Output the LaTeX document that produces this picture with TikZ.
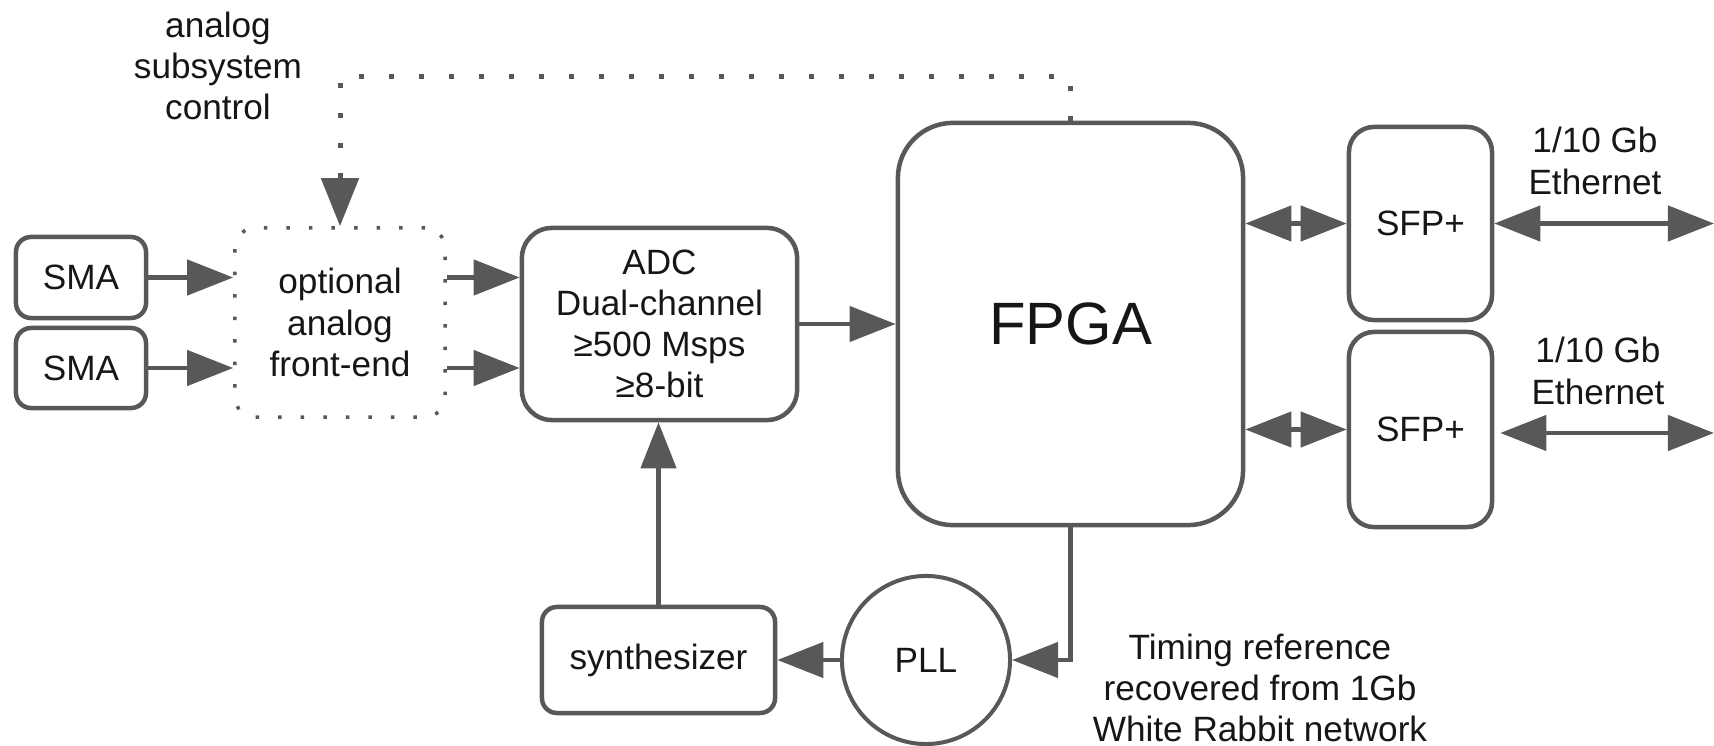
\documentclass[tikz,border=0pt]{standalone}
\usepackage{fontspec}
\setmainfont{Liberation Sans}
\usetikzlibrary{arrows.meta}
\definecolor{lc}{RGB}{88,88,88}
\definecolor{tc}{RGB}{22,22,22}
\begin{document}
\begin{tikzpicture}[x=0.01cm,y=-0.01cm,
  txt/.style={align=center, inner sep=0pt, text=tc, font=\fontsize{10}{11.7}\selectfont},
  blk/.style={txt, draw=lc, line width=0.045cm, rounded corners=#1},
  blk/.default=0.15cm,
  afebox/.style={txt, draw=lc, line width=0.035cm, dash pattern=on 0.035cm off 0.19cm, rounded corners=0.2cm},
  conn/.style={draw=lc, line width=0.045cm, -{Triangle[length=0.46cm,width=0.35cm]}},
  biconn/.style={draw=lc, line width=0.045cm, {Triangle[length=0.46cm,width=0.35cm]}-{Triangle[length=0.46cm,width=0.35cm]}},
  ctlconn/.style={draw=lc, line width=0.05cm, dash pattern=on 0.05cm off 0.25cm, -{Triangle[length=0.48cm,width=0.37cm]}}
]
\useasboundingbox (0,0) rectangle (1714,746);

% blocks
\node[blk] (sma1) at (81,277.5) [minimum width=1.30cm, minimum height=0.81cm] {SMA};
\node[blk] (sma2) at (81,368) [minimum width=1.30cm, minimum height=0.80cm] {SMA};
\node[afebox] (afe) at (340,322.5) [minimum width=2.10cm, minimum height=1.89cm] {optional\\analog\\front-end};
\node[blk=0.3cm] (adc) at (659.5,324) [minimum width=2.75cm, minimum height=1.92cm] {ADC\\Dual-channel\\≥500 Msps\\≥8-bit};
\node[blk=0.55cm, font=\fontsize{17}{20}\selectfont] (fpga) at (1070.5,324) [minimum width=3.45cm, minimum height=4.02cm] {FPGA};
\node[blk=0.25cm] (sfp1) at (1420.5,223.5) [minimum width=1.43cm, minimum height=1.93cm] {SFP+};
\node[blk=0.25cm] (sfp2) at (1420.5,429.5) [minimum width=1.43cm, minimum height=1.95cm] {SFP+};
\node[blk] (syn) at (658.5,660) [minimum width=2.33cm, minimum height=1.06cm] {synthesizer};
\node[txt, draw=lc, line width=0.04cm, circle, minimum size=1.68cm] (pll) at (926,660) {PLL};

% labels
\node[txt] (lctl) at (218,66) {analog\\subsystem\\control};
\node[txt] (leth1) at (1595,161) {1/10 Gb\\Ethernet};
\node[txt] (leth2) at (1598,371) {1/10 Gb\\Ethernet};
\node[txt] (ltim) at (1260,688) {Timing reference\\recovered from 1Gb\\White Rabbit network};

% free ends
\coordinate (ctl) at (340,77);
\coordinate (eth1) at (1714,223.5);
\coordinate (eth2) at (1714,433);

% connectors
\draw[conn] (sma1.east) -- (sma1.east -| afe.west);
\draw[conn] (sma2.east) -- (sma2.east -| afe.west);
\draw[conn] (afe.east |- sma1.east) -- (adc.west |- sma1.east);
\draw[conn] (afe.east |- sma2.east) -- (adc.west |- sma2.east);
\draw[conn] (adc.east) -- (fpga.west);
\draw[biconn] (fpga.east |- sfp1.west) -- (sfp1.west);
\draw[biconn] (fpga.east |- sfp2.west) -- (sfp2.west);
\draw[biconn] (sfp1.east) -- (eth1);
\draw[biconn] ([xshift=0.06cm]sfp2.east |- eth2) -- (eth2);
\draw[conn] (syn.north) -- (syn.north |- adc.south);
\draw[conn] (pll.west) -- (syn.east);
\draw[conn] (fpga.south) |- (pll.east);
\draw[ctlconn] (fpga.north) |- (ctl) -- (afe.north);
\end{tikzpicture}
\end{document}
